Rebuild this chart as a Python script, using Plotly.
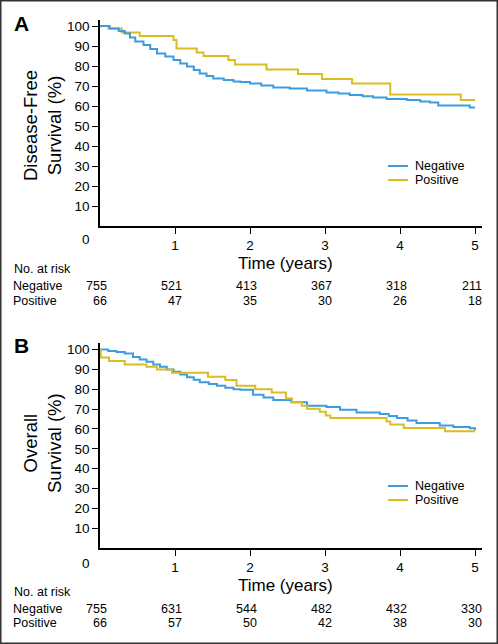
import plotly.graph_objects as go

# ---------------- data ----------------
# Panel A: Disease-free survival
dfs_neg_t = [0, 0.13, 0.25, 0.33, 0.40, 0.47, 0.58, 0.67, 0.76, 0.87, 0.98, 1.07, 1.16, 1.25, 1.33, 1.42, 1.51, 1.65, 1.78, 1.87, 2.0, 2.15, 2.31, 2.53, 2.76, 3.02, 3.18, 3.33, 3.50, 3.64, 3.82, 4.09, 4.27, 4.40, 4.51, 4.80, 4.93, 5.0]
dfs_neg_v = [100, 98.8, 97.5, 96.3, 94.3, 92.2, 90.5, 88.5, 86.3, 84.7, 83.0, 81.3, 79.7, 78.0, 76.3, 75.0, 73.8, 73.0, 72.2, 72.0, 71.3, 70.3, 69.3, 68.8, 67.7, 66.7, 66.2, 65.5, 64.9, 64.3, 63.5, 63.0, 62.2, 61.7, 60.3, 60.3, 59.3, 59.3]
dfs_pos_t = [0, 0.11, 0.29, 0.53, 0.98, 1.02, 1.29, 1.38, 1.71, 1.80, 2.22, 2.64, 2.96, 3.36, 3.87, 4.81, 5.0]
dfs_pos_v = [100, 98.7, 96.8, 95.0, 93.0, 88.8, 86.8, 85.0, 83.0, 80.8, 78.3, 76.0, 73.5, 71.3, 65.8, 63.0, 63.0]

# Panel B: Overall survival
os_neg_t = [0, 0.11, 0.22, 0.33, 0.44, 0.53, 0.62, 0.71, 0.80, 0.89, 0.98, 1.07, 1.16, 1.25, 1.33, 1.45, 1.56, 1.67, 1.78, 1.87, 2.04, 2.18, 2.31, 2.55, 2.76, 3.02, 3.20, 3.42, 3.73, 3.85, 3.96, 4.10, 4.22, 4.53, 4.71, 4.93, 5.0]
os_neg_v = [100, 99.3, 98.8, 98.0, 96.3, 95.0, 93.8, 92.5, 91.3, 90.0, 88.8, 87.4, 86.0, 84.8, 83.5, 82.6, 81.7, 80.8, 80.0, 79.7, 77.2, 75.9, 74.6, 73.5, 71.7, 71.0, 69.7, 68.3, 67.5, 66.5, 65.5, 64.2, 63.0, 61.7, 61.0, 60.3, 59.3]
os_pos_t = [0, 0.01, 0.12, 0.33, 0.62, 0.76, 0.96, 1.44, 1.67, 1.82, 2.07, 2.29, 2.48, 2.56, 2.69, 2.76, 2.93, 3.01, 3.07, 3.82, 3.87, 4.05, 4.60, 5.0]
os_pos_v = [100, 96.0, 94.2, 92.5, 91.3, 90.0, 88.3, 86.3, 84.7, 81.7, 80.0, 78.3, 75.3, 73.5, 71.7, 70.2, 68.7, 66.8, 65.5, 63.8, 62.2, 60.5, 58.8, 58.8]

series_names = ["Negative", "Positive"]
x_ticks = [1, 2, 3, 4, 5]
y_ticks = [10, 20, 30, 40, 50, 60, 70, 80, 90, 100]
risk_times = [0, 1, 2, 3, 4, 5]
risk_A_neg = [755, 521, 413, 367, 318, 211]
risk_A_pos = [66, 47, 35, 30, 26, 18]
risk_B_neg = [755, 631, 544, 482, 432, 330]
risk_B_pos = [66, 57, 50, 42, 38, 30]

# ---------------- style ----------------
BLUE = "#3d9be0"
YELLOW = "#d9bd22"
FONT = "Liberation Sans, Arial, sans-serif"

W, H = 498, 644
ML, MR, MT, MB = 100, 16, 20, 96
XMAX = 5.093

fig = go.Figure()

def add_curve(t, v, color, xa, ya):
    fig.add_trace(go.Scatter(x=t, y=v, mode="lines", line=dict(color=color, width=2, shape="hv"),
                             xaxis=xa, yaxis=ya, showlegend=False, hoverinfo="skip"))

add_curve(dfs_pos_t, dfs_pos_v, YELLOW, "x", "y")
add_curve(dfs_neg_t, dfs_neg_v, BLUE, "x", "y")
add_curve(os_neg_t, os_neg_v, BLUE, "x2", "y2")
add_curve(os_pos_t, os_pos_v, YELLOW, "x2", "y2")

axis_common = dict(showline=True, linecolor="black", linewidth=1.5, ticks="outside",
                   ticklen=6, tickwidth=1.2, tickcolor="black", showgrid=False, zeroline=False,
                   tickfont=dict(family=FONT, size=13.5, color="black"))

plot_h = H - MT - MB
domA = [(548 - 226) / plot_h, 1.0]
domB = [0.0, (548 - 343) / plot_h]

fig.update_layout(
    width=W, height=H,
    margin=dict(l=ML, r=MR, t=MT, b=MB),
    paper_bgcolor="white", plot_bgcolor="white",
    xaxis=dict(range=[0, XMAX], tickvals=x_ticks, anchor="y", **axis_common),
    yaxis=dict(range=[0, 103], tickvals=y_ticks, domain=domA, anchor="x", **axis_common),
    xaxis2=dict(range=[0, XMAX], tickvals=x_ticks, anchor="y2", **axis_common),
    yaxis2=dict(range=[0, 103.3], tickvals=y_ticks, domain=domB, anchor="x2", **axis_common),
)

ann = []
shapes = []

def px_to_paper_x(px):
    return (px - ML) / (W - ML - MR)

def px_to_paper_y(py):
    return (H - MB - py) / plot_h

SMALL = 12.5

def panel(letter, title_lines, letter_y, title_cy, zero_y, time_y, nar_y, neg_y, pos_y,
          xref, yref, neg_vals, pos_vals, leg_y):
    ann.append(dict(text="<b>%s</b>" % letter, x=px_to_paper_x(12), y=px_to_paper_y(letter_y),
                    xref="paper", yref="paper", xanchor="left", yanchor="middle", showarrow=False,
                    font=dict(family=FONT, size=21, color="black")))
    ann.append(dict(text="<br>".join(title_lines), x=px_to_paper_x(42), y=px_to_paper_y(title_cy),
                    xref="paper", yref="paper", xanchor="center", yanchor="middle", showarrow=False,
                    textangle=-90, font=dict(family=FONT, size=18.5, color="black")))
    ann.append(dict(text="0", x=px_to_paper_x(86), y=px_to_paper_y(zero_y), xref="paper", yref="paper",
                    xanchor="center", yanchor="middle", showarrow=False,
                    font=dict(family=FONT, size=13.5, color="black")))
    ann.append(dict(text="Time (years)", x=px_to_paper_x(285), y=px_to_paper_y(time_y), xref="paper",
                    yref="paper", xanchor="center", yanchor="middle", showarrow=False,
                    font=dict(family=FONT, size=17, color="black")))
    ann.append(dict(text="No. at risk", x=px_to_paper_x(12), y=px_to_paper_y(nar_y), xref="paper",
                    yref="paper", xanchor="left", yanchor="middle", showarrow=False,
                    font=dict(family=FONT, size=SMALL, color="black")))
    for label, yy, vals in [(series_names[0], neg_y, neg_vals), (series_names[1], pos_y, pos_vals)]:
        ann.append(dict(text=label, x=px_to_paper_x(11), y=px_to_paper_y(yy), xref="paper", yref="paper",
                        xanchor="left", yanchor="middle", showarrow=False,
                        font=dict(family=FONT, size=SMALL, color="black")))
        for t, v in zip(risk_times, vals):
            ann.append(dict(text=str(v), x=t, y=px_to_paper_y(yy), xref=xref, yref="paper",
                            xanchor="right", yanchor="middle", showarrow=False, xshift=9,
                            font=dict(family=FONT, size=SMALL, color="black")))
    # legend
    for label, color, dy in [(series_names[0], BLUE, 0), (series_names[1], YELLOW, 14)]:
        yy = leg_y + dy
        shapes.append(dict(type="line", xref="paper", yref="paper",
                           x0=px_to_paper_x(388), x1=px_to_paper_x(408),
                           y0=px_to_paper_y(yy), y1=px_to_paper_y(yy),
                           line=dict(color=color, width=2)))
        ann.append(dict(text=label, x=px_to_paper_x(413), y=px_to_paper_y(yy), xref="paper", yref="paper",
                        xanchor="left", yanchor="middle", showarrow=False,
                        font=dict(family=FONT, size=SMALL, color="black")))

panel("A", ["Disease-Free", "Survival (%)"], 24, 126, 239, 263, 269, 286, 301, "x", "y",
      risk_A_neg, risk_A_pos, 166)
panel("B", ["Overall", "Survival (%)"], 345, 443, 563, 585, 592, 609, 623, "x2", "y2",
      risk_B_neg, risk_B_pos, 486)

# outer frame
shapes.append(dict(type="rect", xref="paper", yref="paper",
                   x0=px_to_paper_x(0.75), x1=px_to_paper_x(W - 0.75),
                   y0=px_to_paper_y(H - 0.75), y1=px_to_paper_y(0.75),
                   line=dict(color="#333333", width=1.5), fillcolor="rgba(0,0,0,0)", layer="above"))

fig.update_layout(annotations=ann, shapes=shapes)
fig.write_html("out.html", config={"displayModeBar": False},
               post_script="document.body.style.margin='0';document.body.style.overflow='hidden';")
